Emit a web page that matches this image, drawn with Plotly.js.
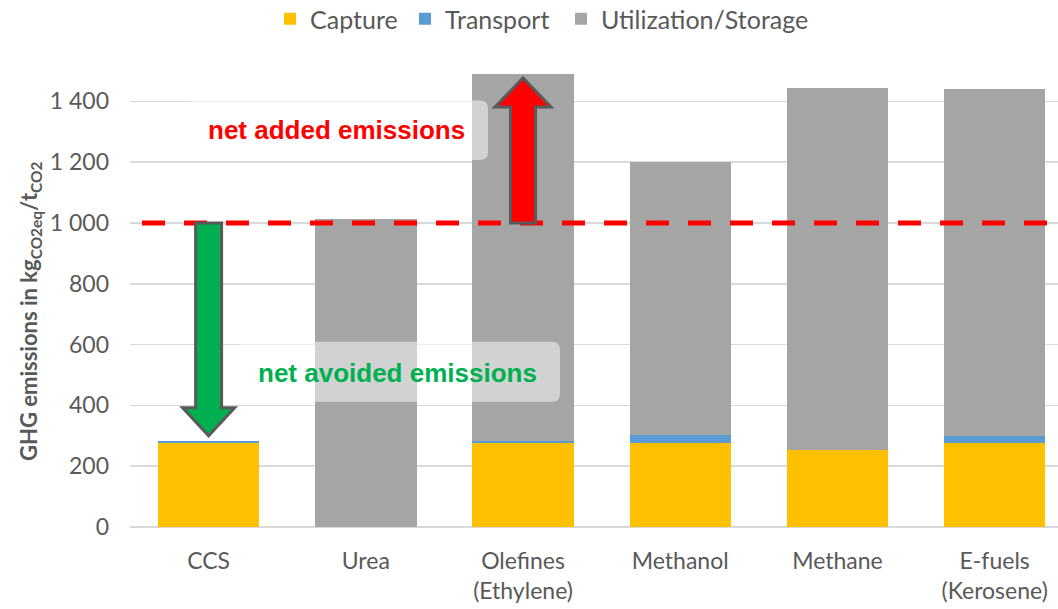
<!DOCTYPE html>
<html>
<head>
<meta charset="utf-8">
<script src="https://cdn.plot.ly/plotly-3.0.1.min.js"></script>
<style>html,body{margin:0;padding:0;background:#fff;}#chart{width:1058px;height:609px;}</style>
</head>
<body>
<div id="chart"></div>
<script>
// ---- data ----
const categories = ['CCS', 'Urea', 'Olefines<br>(Ethylene)', 'Methanol', 'Methane', 'E-fuels<br>(Kerosene)'];
const capture = [277, 0, 277, 277, 254, 277];
const transport = [6, 0, 6, 27, 0, 24];
const utilization = [0, 1014, 1208, 897, 1191, 1139];
const seriesNames = ['Capture', 'Transport', 'Utilization/Storage'];
const referenceLevel = 1000;           // emissions baseline (kg CO2eq / t CO2)
const avoidedArrowEnd = 300;           // arrow tip for "net avoided emissions"
const addedArrowEnd = 1477;            // arrow tip for "net added emissions"
const yTickVals = [0, 200, 400, 600, 800, 1000, 1200, 1400];
const yTitle = '<b>GHG emissions in kg<sub>CO2eq</sub>/t<sub>CO2</sub></b>';

// ---- geometry helpers ----
const W = 1058, H = 609;
const M = {l: 130, r: 0, t: 71, b: 82, autoexpand: false};
const plotW = W - M.l - M.r, plotH = H - M.t - M.b;
const xr = [-0.5, 5.403];
const yr = [0, 1500];
const pxPerUnit = plotH / (yr[1] - yr[0]);
const xp = i => (i - xr[0]) / (xr[1] - xr[0]);      // category index -> paper
const dx = px => px / plotW;                        // pixels -> paper width
const dy = px => px / pxPerUnit;                    // pixels -> y units
const pxToPaperX = px => (px - M.l) / plotW;
const pyToPaperY = py => (H - M.b - py) / plotH;

function arrowPath(idx, yStart, yEnd, shaftHalf, headHalf, headLen) {
  const c = xp(idx);
  const dir = yEnd > yStart ? 1 : -1;
  const yb = yEnd - dir * dy(headLen);
  const pts = [
    [c - dx(shaftHalf), yStart], [c - dx(shaftHalf), yb], [c - dx(headHalf), yb],
    [c, yEnd], [c + dx(headHalf), yb], [c + dx(shaftHalf), yb], [c + dx(shaftHalf), yStart]
  ];
  return 'M' + pts.map(p => p[0] + ',' + p[1]).join(' L') + ' Z';
}
function roundBox(x0, x1, y0, y1, r) {
  const rx = dx(r), ry = dy(r);
  return `M${x0 + rx},${y1} L${x1 - rx},${y1} Q${x1},${y1} ${x1},${y1 - ry} L${x1},${y0 + ry} Q${x1},${y0} ${x1 - rx},${y0} L${x0 + rx},${y0} Q${x0},${y0} ${x0},${y0 + ry} L${x0},${y1 - ry} Q${x0},${y1} ${x0 + rx},${y1} Z`;
}

const colors = ['#FFC000', '#5B9BD5', '#A5A5A5'];
const legendIds = ['legend', 'legend2', 'legend3'];
const values = [capture, transport, utilization];
const traces = values.map((v, k) => ({
  type: 'bar', x: categories, y: v, name: seriesNames[k], legend: legendIds[k],
  marker: {color: colors[k], line: {width: 0}},
  hoverinfo: 'skip'
}));

const fam = 'Lato, "Open Sans", sans-serif';
const tickFont = {family: fam, size: 23, color: '#595959'};
const legendFont = {family: fam, size: 25, color: '#595959'};
const legendTextX = [311, 446, 602];     // pixel x where each legend label starts
const mkLegend = k => ({orientation: 'h', x: pxToPaperX(legendTextX[k] - 41), xanchor: 'left',
                        y: pyToPaperY(19), yanchor: 'middle', font: legendFont,
                        bgcolor: 'rgba(0,0,0,0)'});

const shapes = [
  // text boxes
  {type: 'path', xref: 'paper', yref: 'y', layer: 'above', line: {width: 0},
   fillcolor: 'rgba(255,255,255,0.5)',
   path: roundBox(pxToPaperX(187), pxToPaperX(488), 1207, 1403, 8)},
  {type: 'path', xref: 'paper', yref: 'y', layer: 'above', line: {width: 0},
   fillcolor: 'rgba(255,255,255,0.5)',
   path: roundBox(pxToPaperX(237), pxToPaperX(560), 412, 609, 8)},
  // dashed reference line
  {type: 'line', xref: 'paper', yref: 'y', layer: 'above',
   x0: pxToPaperX(142), x1: pxToPaperX(1047), y0: referenceLevel, y1: referenceLevel,
   line: {color: '#FF0000', width: 5, dash: '23px,19px'}},
  // arrows
  {type: 'path', xref: 'paper', yref: 'y', layer: 'above',
   path: arrowPath(0, referenceLevel, avoidedArrowEnd, 13, 26, 28),
   fillcolor: '#00B050', line: {color: '#595959', width: 3}},
  {type: 'path', xref: 'paper', yref: 'y', layer: 'above',
   path: arrowPath(2, referenceLevel, addedArrowEnd, 12.5, 28, 29),
   fillcolor: '#FF0000', line: {color: '#595959', width: 3}}
];

const annFont = '"Liberation Sans", Arial, sans-serif';
const annotations = [
  {xref: 'paper', yref: 'y', x: pxToPaperX(336), y: 1305, xanchor: 'center', yanchor: 'middle',
   text: '<b>net added emissions</b>', showarrow: false,
   font: {family: annFont, size: 26, color: '#FF0000'}},
  {xref: 'paper', yref: 'y', x: pxToPaperX(397), y: 505, xanchor: 'center', yanchor: 'middle',
   text: '<b>net avoided emissions</b>', showarrow: false,
   font: {family: annFont, size: 26, color: '#00B050'}},
  // y-axis title
  {xref: 'paper', yref: 'paper', x: pxToPaperX(30), y: pyToPaperY(312), xanchor: 'center', yanchor: 'middle',
   text: yTitle, textangle: -90, showarrow: false,
   font: {family: fam, size: 22, color: '#595959'}}
];

const layout = {
  width: W, height: H, margin: M,
  paper_bgcolor: '#fff', plot_bgcolor: '#fff',
  barmode: 'stack', bargap: 0.355,
  separators: '. ',
  showlegend: true,
  legend: mkLegend(0), legend2: mkLegend(1), legend3: mkLegend(2),
  xaxis: {type: 'category', range: xr, tickfont: tickFont, showgrid: false,
          showline: false, ticks: '', ticklabelstandoff: 18, fixedrange: true},
  yaxis: {range: yr, tickvals: yTickVals, separatethousands: true, tickfont: tickFont,
          showgrid: true, gridcolor: '#d9d9d9', gridwidth: 1.5,
          zeroline: true, zerolinecolor: '#d9d9d9', zerolinewidth: 1.5,
          ticks: '', ticklabelstandoff: 20, fixedrange: true},
  shapes: shapes,
  annotations: annotations,
  font: tickFont
};

Plotly.newPlot('chart', traces, layout, {displayModeBar: false, staticPlot: true});
</script>
</body>
</html>
